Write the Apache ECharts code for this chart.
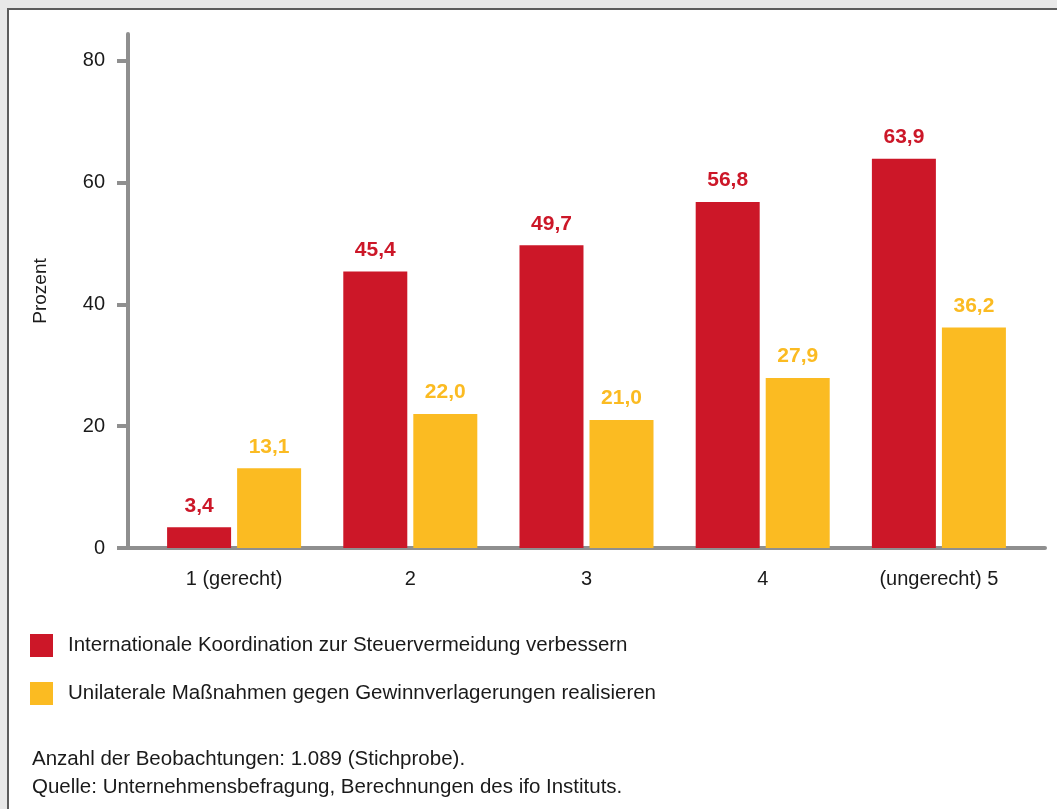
<!DOCTYPE html>
<html lang="de">
<head>
<meta charset="UTF-8">
<title>Steuervermeidung</title>
<script src="https://cdn.jsdelivr.net/npm/echarts@6/dist/echarts.min.js"></script>
<style>
  body { margin: 0; background: #e8e8e8; overflow: hidden; }
  #frame { position: absolute; left: 7px; top: 8px; width: 1100px; height: 900px; background: #fff;
           border-left: 2px solid #5c5c5c; border-top: 2px solid #5c5c5c; }
  #chart { position: absolute; left: 0; top: 0; width: 1057px; height: 809px; }
</style>
</head>
<body>
<div id="frame"></div>
<div id="chart"></div>
<script>
  // Daten
  var categories = ['1 (gerecht)', '2', '3', '4', '(ungerecht) 5']
  var koordination = [3.4, 45.4, 49.7, 56.8, 63.9]
  var unilateral = [13.1, 22.0, 21.0, 27.9, 36.2]
  var yTicks = [0, 20, 40, 60, 80]
  var seriesNames = ['Internationale Koordination zur Steuervermeidung verbessern',
                     'Unilaterale Maßnahmen gegen Gewinnverlagerungen realisieren']
  var notes = ['Anzahl der Beobachtungen: 1.089 (Stichprobe).',
               'Quelle: Unternehmensbefragung, Berechnungen des ifo Instituts.']

  var RED = '#cc1728', YELLOW = '#fbbb22', AXIS = '#8f8f8f', TXT = '#1a1a1a'
  var FONT = '"Liberation Sans", sans-serif'
  var YMAX = 84.4

  function komma(p) { return p.value.toFixed(1).replace('.', ',') }

  var myChart = echarts.init(document.getElementById('chart'))
  var option = {
    animation: false,
    textStyle: { fontFamily: FONT },
    legend: {
      orient: 'vertical', left: 25, top: 629,
      itemWidth: 23, itemHeight: 23, itemGap: 25,
      icon: 'rect',
      textStyle: { fontSize: 20.5, color: TXT, padding: [0, 0, 0, 10] },
      data: seriesNames
    },
    graphic: [{
      type: 'text', left: 32, top: 745,
      style: { text: notes.join('\n'), fontSize: 20.5, lineHeight: 28, fill: TXT, fontFamily: FONT }
    }],
    grid: [
      { left: 146, right: 30, top: 34, bottom: 261 },  // Balken
      { left: 128, right: 12, top: 34, bottom: 261 }   // Achsen
    ],
    xAxis: [{
      type: 'category', gridIndex: 0, data: categories,
      axisLine: { show: false }, axisTick: { show: false },
      axisLabel: { fontSize: 20, color: TXT, margin: 21, fontFamily: FONT }
    }, {
      type: 'value', gridIndex: 1, min: 0, max: 1,
      axisLine: { show: true, lineStyle: { color: AXIS, width: 4 } },
      axisTick: { show: false }, axisLabel: { show: false }, splitLine: { show: false }
    }],
    yAxis: [{
      type: 'value', gridIndex: 0, min: 0, max: YMAX, show: false
    }, {
      type: 'value', gridIndex: 1, min: 0, max: YMAX, interval: 20,
      name: 'Prozent', nameLocation: 'middle', nameGap: 78, nameRotate: 90,
      nameTextStyle: { fontSize: 19, color: TXT, fontFamily: FONT },
      axisLine: { show: true, lineStyle: { color: AXIS, width: 4 } },
      axisTick: { show: true, length: 11, customValues: yTicks, lineStyle: { color: AXIS, width: 4 } },
      axisLabel: { fontSize: 20, color: TXT, margin: 23, customValues: yTicks, fontFamily: FONT },
      splitLine: { show: false }
    }],
    series: [{
      name: seriesNames[0], type: 'bar', xAxisIndex: 0, yAxisIndex: 0,
      data: koordination, barWidth: 64, barGap: '9.4%',
      itemStyle: { color: RED },
      label: { show: true, position: 'top', distance: 11, formatter: komma,
               color: RED, fontSize: 21, fontWeight: 'bold', fontFamily: FONT }
    }, {
      name: seriesNames[1], type: 'bar', xAxisIndex: 0, yAxisIndex: 0,
      data: unilateral, barWidth: 64, barGap: '9.4%',
      itemStyle: { color: YELLOW },
      label: { show: true, position: 'top', distance: 11, formatter: komma,
               color: YELLOW, fontSize: 21, fontWeight: 'bold', fontFamily: FONT }
    }]
  }
  myChart.setOption(option)
</script>
</body>
</html>
